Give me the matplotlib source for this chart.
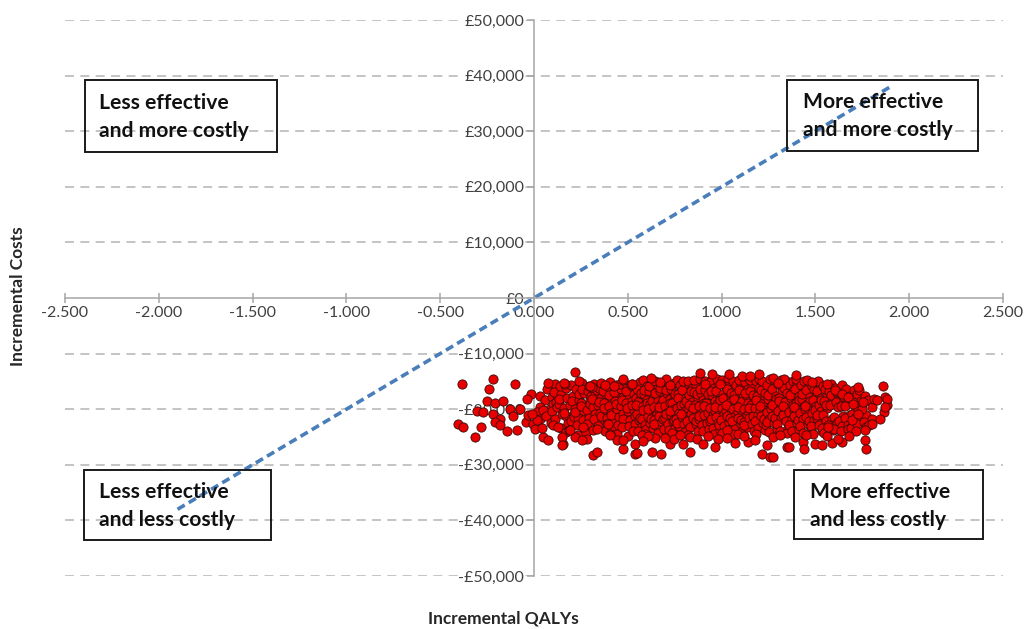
import matplotlib
matplotlib.use("Agg")
import matplotlib.pyplot as plt
from matplotlib.patches import Rectangle
from matplotlib.ticker import FuncFormatter
import numpy as np

plt.rcParams['font.family'] = ['Lato', 'DejaVu Sans']

# ---------------- data ----------------
x_ticks = [-2.5, -2.0, -1.5, -1.0, -0.5, 0.0, 0.5, 1.0, 1.5, 2.0, 2.5]
y_ticks = [-50000, -40000, -30000, -20000, -10000, 0, 10000, 20000, 30000, 40000, 50000]

# willingness-to-pay threshold line (£20,000 per QALY), end points
threshold_qaly = [-1.9, 1.9]
threshold_cost = [-38000, 38000]

quadrant_labels = ["Less effective\nand more costly", "More effective\nand more costly",
                   "Less effective\nand less costly", "More effective\nand less costly"]

# probabilistic sensitivity analysis draws (incremental QALY, incremental cost)
psa_left_tail = [
    (-0.385, -15500), (-0.220, -14500), (-0.238, -16400), (-0.100, -15500), (-0.250, -18500),
    (-0.210, -18800), (-0.167, -18500), (-0.128, -19900), (-0.305, -20300), (-0.270, -20500),
    (-0.217, -20800), (-0.181, -21700), (-0.208, -22300), (-0.181, -22900), (-0.403, -22700),
    (-0.380, -23200), (-0.284, -23200), (-0.146, -23900), (-0.092, -23800), (-0.314, -25000),
    (-0.075, -20000), (-0.110, -21200), (-0.043, -22300), (-0.030, -21100), (-0.018, -17200),
    (-0.036, -18200), (-0.004, -22600), (0.005, -23500), (0.032, -17600), (0.068, -16400),
    (0.059, -18400), (0.094, -17800), (0.085, -19900), (0.032, -19600), (0.014, -20500),
    (0.050, -20200), (0.112, -15400), (0.124, -17500), (0.103, -19000), (0.050, -25000),
    (0.076, -25600), (0.032, -21700), (0.014, -22000), (-0.012, -20800), (0.076, -15200),
    (0.065, -21200), (0.088, -22400), (0.045, -23300),
]

psa_core_low = [
    (0.105, -16900), (0.118, -18700), (0.098, -20400), (0.112, -21800), (0.124, -19600), (0.103, -22900),
    (0.142, -17300), (0.135, -19100), (0.149, -20900), (0.131, -18200), (0.146, -23400), (0.138, -15900),
    (0.168, -16200), (0.177, -18000), (0.162, -19800), (0.173, -21300), (0.181, -22500), (0.159, -20600), (0.171, -24100),
    (0.196, -15600), (0.207, -17700), (0.192, -19300), (0.211, -20800), (0.199, -22100), (0.204, -18600), (0.189, -23700), (0.214, -21400),
    (0.226, -16400), (0.238, -18300), (0.221, -19900), (0.233, -21600), (0.242, -17200), (0.228, -22800), (0.219, -20500), (0.236, -24600),
    (0.257, -15200), (0.264, -17000), (0.252, -18900), (0.269, -20300), (0.261, -21900), (0.249, -19400), (0.266, -23300), (0.255, -16300),
    (0.288, -16700), (0.296, -18400), (0.281, -20100), (0.293, -21500), (0.302, -17600), (0.285, -22700), (0.298, -19000), (0.279, -24200), (0.291, -15900),
    (0.318, -15500), (0.327, -17400), (0.313, -19600), (0.324, -20900), (0.331, -22300), (0.309, -18100), (0.321, -21700), (0.334, -16600), (0.316, -23800),
    (0.346, -16100), (0.357, -17900), (0.343, -19200), (0.352, -20600), (0.361, -22000), (0.348, -18700), (0.355, -21200), (0.341, -23100), (0.359, -15300),
    (0.377, -15800), (0.386, -17300), (0.372, -18800), (0.383, -20200), (0.391, -21600), (0.374, -19700), (0.388, -22600), (0.369, -16800), (0.381, -24000),
    (0.406, -16400), (0.417, -18200), (0.402, -19500), (0.413, -20700), (0.421, -22200), (0.398, -17500), (0.409, -21000), (0.415, -23500), (0.404, -15100),
    (0.437, -15700), (0.446, -17100), (0.432, -18600), (0.443, -20000), (0.451, -21400), (0.435, -19100), (0.448, -22900), (0.429, -16900), (0.441, -24400),
    (0.466, -16300), (0.477, -17800), (0.462, -19400), (0.473, -20800), (0.481, -22400), (0.468, -18300), (0.475, -21700), (0.459, -15400), (0.471, -23200),
    (0.497, -15900), (0.506, -17500), (0.492, -18900), (0.503, -20400), (0.511, -21900), (0.495, -19800), (0.508, -23000), (0.489, -16700), (0.501, -24800),
    (0.526, -16000), (0.535, -17200), (0.521, -18500), (0.532, -20100), (0.541, -21300), (0.524, -19300), (0.538, -22600), (0.519, -15600), (0.529, -23900), (0.544, -17900),
]

psa_core_mid = [
    (0.564, -15100), (0.551, -16400), (0.572, -17600), (0.557, -18700), (0.568, -19800), (0.548, -20900), (0.561, -22000), (0.574, -23100), (0.554, -24000), (0.570, -17000), (0.546, -19300), (0.566, -21500),
    (0.583, -14700), (0.601, -15900), (0.588, -17300), (0.603, -18400), (0.580, -19500), (0.595, -20600), (0.577, -21700), (0.593, -22800), (0.599, -23600), (0.586, -16600), (0.605, -18900), (0.582, -20100), (0.592, -24500),
    (0.624, -15300), (0.611, -16800), (0.632, -17900), (0.617, -19000), (0.628, -20300), (0.608, -21200), (0.621, -22400), (0.634, -23300), (0.614, -15900), (0.630, -18500), (0.606, -19900), (0.626, -21800),
    (0.643, -14900), (0.661, -16100), (0.648, -17400), (0.663, -18600), (0.640, -19600), (0.655, -20800), (0.637, -21900), (0.653, -23000), (0.659, -24200), (0.646, -17000), (0.665, -20200), (0.642, -22600),
    (0.684, -15500), (0.671, -16700), (0.692, -17800), (0.677, -19100), (0.688, -20000), (0.668, -21300), (0.681, -22300), (0.694, -23600), (0.674, -16200), (0.690, -18300), (0.666, -19600), (0.686, -21700),
    (0.703, -14600), (0.721, -15800), (0.708, -17100), (0.723, -18200), (0.700, -19400), (0.715, -20500), (0.697, -21600), (0.713, -22700), (0.719, -23800), (0.706, -16500), (0.725, -18800), (0.702, -20900),
    (0.744, -15200), (0.731, -16300), (0.752, -17600), (0.737, -18900), (0.748, -19900), (0.728, -21100), (0.741, -22200), (0.754, -23400), (0.734, -24300), (0.750, -17300), (0.726, -20400), (0.746, -22000),
    (0.763, -14800), (0.781, -16000), (0.768, -17200), (0.783, -18400), (0.760, -19700), (0.775, -20700), (0.757, -21800), (0.773, -23000), (0.779, -15600), (0.766, -18000), (0.785, -19200), (0.762, -22500),
    (0.804, -15400), (0.791, -16600), (0.812, -17900), (0.797, -19000), (0.808, -20200), (0.788, -21400), (0.801, -22600), (0.814, -23700), (0.794, -14900), (0.810, -18500), (0.786, -20800), (0.806, -24100),
    (0.823, -15000), (0.841, -16200), (0.828, -17500), (0.843, -18700), (0.820, -19800), (0.835, -20900), (0.817, -22100), (0.833, -23200), (0.839, -16800), (0.826, -19300), (0.845, -21600), (0.822, -24600),
    (0.864, -15600), (0.851, -16900), (0.872, -18100), (0.857, -19200), (0.868, -20400), (0.848, -21500), (0.861, -22700), (0.874, -23900), (0.854, -14700), (0.870, -17300), (0.846, -19700), (0.866, -22200),
    (0.883, -14500), (0.901, -15800), (0.888, -17000), (0.903, -18300), (0.880, -19500), (0.895, -20600), (0.877, -21800), (0.893, -22900), (0.899, -24000), (0.886, -16400), (0.905, -18800), (0.882, -21200),
    (0.924, -15300), (0.911, -16500), (0.932, -17700), (0.917, -18900), (0.928, -20000), (0.908, -21100), (0.921, -22400), (0.934, -23500), (0.914, -14900), (0.930, -17200), (0.906, -19400), (0.926, -20700),
    (0.943, -15000), (0.961, -16200), (0.948, -17400), (0.963, -18600), (0.940, -19800), (0.955, -21000), (0.937, -22100), (0.953, -23300), (0.959, -24400), (0.946, -16800), (0.965, -20300), (0.942, -21700),
    (0.984, -15500), (0.971, -16700), (0.992, -17900), (0.977, -19100), (0.988, -20200), (0.968, -21400), (0.981, -22500), (0.994, -23700), (0.974, -14600), (0.990, -18400), (0.966, -19600), (0.986, -22900),
    (1.003, -14800), (1.021, -16000), (1.008, -17300), (1.023, -18500), (1.000, -19700), (1.015, -20800), (0.997, -21900), (1.013, -23100), (1.019, -15600), (1.006, -18000), (1.025, -20400), (1.002, -24200),
    (1.044, -15200), (1.031, -16400), (1.052, -17700), (1.037, -18900), (1.048, -20000), (1.028, -21200), (1.041, -22300), (1.054, -23400), (1.034, -14400), (1.050, -17100), (1.026, -19300), (1.046, -21600),
    (1.063, -14900), (1.081, -16100), (1.068, -17400), (1.083, -18700), (1.060, -19900), (1.075, -21000), (1.057, -22200), (1.073, -23600), (1.079, -15700), (1.066, -18200), (1.085, -20500), (1.062, -24500),
    (1.104, -15400), (1.091, -16600), (1.112, -17800), (1.097, -19000), (1.108, -20300), (1.088, -21500), (1.101, -22600), (1.114, -23800), (1.094, -14700), (1.110, -18500), (1.086, -19600), (1.106, -21900),
    (1.123, -15100), (1.141, -16300), (1.128, -17500), (1.143, -18800), (1.120, -19900), (1.135, -21100), (1.117, -22300), (1.133, -23200), (1.139, -14300), (1.126, -17000), (1.145, -20600), (1.122, -22800),
    (1.164, -15600), (1.151, -16800), (1.172, -18000), (1.157, -19300), (1.168, -20400), (1.148, -21600), (1.161, -22700), (1.174, -24000), (1.154, -14800), (1.170, -17400), (1.146, -19700), (1.166, -21200),
    (1.183, -15000), (1.201, -16200), (1.188, -17600), (1.203, -18700), (1.180, -19800), (1.195, -21000), (1.177, -22100), (1.193, -23300), (1.199, -14500), (1.186, -18300), (1.205, -20200), (1.182, -24400),
    (1.224, -15300), (1.211, -16500), (1.232, -17800), (1.217, -19000), (1.228, -20200), (1.208, -21300), (1.221, -22500), (1.234, -23700), (1.214, -14900), (1.230, -17100), (1.206, -19500), (1.226, -21800),
    (1.243, -15700), (1.261, -16900), (1.248, -18100), (1.263, -19400), (1.240, -20500), (1.255, -21700), (1.237, -22900), (1.253, -24100), (1.259, -14600), (1.246, -17500), (1.265, -20000), (1.242, -22300),
    (1.284, -15100), (1.271, -16400), (1.292, -17600), (1.277, -18800), (1.288, -20000), (1.268, -21200), (1.281, -22400), (1.294, -23500), (1.274, -14400), (1.290, -18200), (1.266, -19300), (1.286, -21600),
]

psa_core_high = [
    (1.303, -15400), (1.321, -16700), (1.308, -17900), (1.323, -19100), (1.300, -20300), (1.315, -21500), (1.297, -22700), (1.313, -23900), (1.319, -14800), (1.306, -18500), (1.325, -20800),
    (1.344, -15000), (1.331, -16200), (1.352, -17500), (1.337, -18700), (1.348, -19900), (1.328, -21100), (1.341, -22200), (1.354, -23400), (1.334, -14500), (1.350, -17100), (1.326, -19400), (1.346, -24300),
    (1.363, -15600), (1.381, -16800), (1.368, -18000), (1.383, -19300), (1.360, -20500), (1.375, -21700), (1.357, -22900), (1.373, -24000), (1.379, -14900), (1.366, -17400), (1.385, -20100),
    (1.404, -15200), (1.391, -16400), (1.412, -17700), (1.397, -18900), (1.408, -20100), (1.388, -21300), (1.401, -22400), (1.414, -23600), (1.394, -14600), (1.410, -18300), (1.386, -19600), (1.406, -21900),
    (1.423, -15700), (1.441, -16900), (1.428, -18200), (1.443, -19400), (1.420, -20600), (1.435, -21800), (1.417, -23000), (1.433, -24200), (1.439, -15000), (1.426, -17300), (1.445, -20000),
    (1.464, -15300), (1.451, -16600), (1.472, -17800), (1.457, -19000), (1.468, -20200), (1.448, -21400), (1.461, -22600), (1.474, -23800), (1.454, -14700), (1.470, -18600), (1.446, -19500), (1.466, -22100),
    (1.483, -15800), (1.501, -17000), (1.488, -18300), (1.503, -19500), (1.480, -20700), (1.495, -21900), (1.477, -23100), (1.493, -16300), (1.499, -20100), (1.486, -24500),
    (1.524, -15400), (1.511, -16700), (1.532, -17900), (1.517, -19200), (1.528, -20400), (1.508, -21600), (1.521, -22800), (1.534, -23900), (1.514, -15000), (1.530, -18400), (1.506, -21100),
    (1.543, -15900), (1.561, -17200), (1.548, -18500), (1.563, -19700), (1.540, -21100), (1.555, -22100), (1.537, -23300), (1.553, -16400), (1.559, -19200), (1.546, -24200),
    (1.584, -15500), (1.571, -16800), (1.592, -18100), (1.577, -19300), (1.588, -21800), (1.568, -22900), (1.581, -17500), (1.594, -23700),
    (1.603, -16100), (1.621, -17400), (1.608, -18700), (1.623, -19600), (1.600, -21400), (1.615, -22400), (1.597, -23500), (1.613, -16900),
    (1.644, -15700), (1.631, -17000), (1.652, -18300), (1.637, -19500), (1.648, -21300), (1.628, -22200), (1.641, -23100), (1.654, -17800), (1.634, -24000),
    (1.663, -16300), (1.681, -17600), (1.668, -18900), (1.683, -21000), (1.660, -21600), (1.675, -22800), (1.657, -19500), (1.673, -23600),
    (1.704, -16600), (1.691, -17900), (1.712, -19400), (1.697, -20900), (1.708, -22000), (1.688, -23400), (1.701, -18500), (1.714, -21400),
    (1.723, -17200), (1.741, -18600), (1.728, -20100), (1.743, -21500), (1.720, -22700), (1.735, -16500), (1.717, -23900),
    (1.764, -17700), (1.751, -19000), (1.772, -21100), (1.757, -22300), (1.768, -23200), (1.748, -20000),
    (1.783, -18400), (1.801, -21700), (1.788, -22900), (1.803, -19600),
]

psa_edges = [
    # upper edge
    (0.219, -13300), (0.241, -14900), (0.165, -15400), (0.307, -16000), (0.378, -15700), (0.473, -14800),
    (0.520, -15400), (0.162, -15200), (0.299, -15800), (0.428, -15800), (0.476, -14500), (0.524, -15400),
    (0.624, -14300), (0.672, -15100), (0.725, -15700), (0.885, -13400), (0.947, -13700), (1.041, -13700),
    (1.107, -14000), (1.151, -14000), (1.201, -13600), (0.912, -15500), (0.991, -15500), (1.302, -15200),
    (1.395, -13900), (1.560, -15500), (1.725, -16000), (1.859, -15800), (1.480, -15100), (1.604, -16600),
    (1.640, -17200),
    # lower edge
    (0.316, -28300), (0.334, -27700), (0.156, -26200), (0.219, -25000), (0.281, -25300), (0.476, -27100),
    (0.538, -28000), (0.405, -24400), (0.441, -25600), (0.130, -23200), (0.192, -23800), (0.263, -23200),
    (0.334, -23500), (0.396, -22600), (0.151, -25000), (0.151, -26500), (0.254, -25600), (0.405, -24700),
    (0.476, -25600), (0.538, -26200), (0.547, -27800), (0.627, -27700), (0.677, -28100), (0.725, -26200),
    (0.645, -25100), (0.574, -24700), (0.746, -25400), (0.796, -26200), (0.832, -27700), (0.982, -25400),
    (0.965, -26800), (1.089, -24400), (1.142, -25900), (1.214, -28000), (1.258, -28600), (1.240, -26500),
    (1.276, -25000), (1.347, -26800), (0.832, -25000), (1.027, -23800), (1.359, -26800), (1.436, -25900),
    (1.498, -26200), (1.534, -26500), (1.587, -26000), (1.640, -25900), (1.764, -25600), (1.768, -27200),
    (1.272, -28600), (0.610, -24800), (0.700, -25200), (0.780, -24700), (0.870, -25300), (0.930, -24900),
    (1.030, -25100), (1.120, -24800), (1.180, -25500), (1.310, -24700), (1.390, -25000), (1.450, -24700),
    (1.560, -24800), (1.680, -24900), (0.580, -25800), (0.900, -26300), (1.070, -26000), (1.440, -27100),
    (1.620, -25400),
    # right edge
    (1.672, -17800), (1.755, -18700), (1.814, -18100), (1.871, -17800), (1.880, -19300), (1.867, -20500),
    (1.844, -21700), (1.800, -22600), (1.764, -23800), (1.569, -23200), (1.693, -22000), (1.729, -20800),
    (1.702, -19000), (1.826, -18400), (1.880, -18100), (1.870, -19600),
]

# ---------------- figure ----------------
W, H = 1024, 629
fig = plt.figure(figsize=(W / 100, H / 100), dpi=100)
ax = fig.add_axes([65 / W, 1 - 576 / H, (1003 - 65) / W, (576 - 20) / H])
ax.set_xlim(-2.5, 2.5)
ax.set_ylim(-50000, 50000)

axis_col = '#a6a6a6'
for s in ['top', 'right']:
    ax.spines[s].set_visible(False)
ax.spines['left'].set_position('zero')
ax.spines['bottom'].set_position('zero')
ax.spines['left'].set_color(axis_col)
ax.spines['bottom'].set_color(axis_col)
ax.spines['left'].set_linewidth(1.1)
ax.spines['bottom'].set_linewidth(1.1)

# dashed horizontal gridlines
for yv in y_ticks:
    if yv != 0:
        ax.axhline(yv, color='#bfbfbf', lw=1.3, dashes=(5, 3.5), zorder=1)

ax.set_xticks(x_ticks)
ax.set_yticks(y_ticks)
ax.xaxis.set_major_formatter(FuncFormatter(lambda v, p: f"{v:.3f}"))


def money(v, p):
    v = int(round(v))
    return f"£{v:,}" if v >= 0 else f"-£{-v:,}"


ax.yaxis.set_major_formatter(FuncFormatter(money))
ax.tick_params(axis='x', direction='inout', length=7, width=1.1, color=axis_col,
               labelsize=11.5, labelcolor='#404040', pad=2)
ax.tick_params(axis='y', direction='out', length=5, width=1.1, color=axis_col,
               labelsize=11.5, labelcolor='#404040', pad=2)
for lab in ax.get_yticklabels():
    lab.set_bbox(dict(facecolor='white', edgecolor='none', pad=0.5))

# threshold line
ax.plot(threshold_qaly, threshold_cost, color='#4a7ebb', lw=2.6, dashes=(2.3, 1.3), zorder=2)

# scatter
all_pts = psa_left_tail + psa_core_low + psa_core_mid + psa_core_high + psa_edges
inc_qaly = np.array([p[0] for p in all_pts])
inc_cost = np.array([p[1] for p in all_pts])
ax.scatter(inc_qaly, inc_cost, s=44, c='#e80000', edgecolors='#3a0a0a', linewidths=0.6, zorder=4,
           clip_on=False)

# axis titles
fig.text(18 / W, 1 - 296 / H, "Incremental Costs", rotation=90, ha='center', va='center',
         fontsize=12.5, fontweight='bold', color='#262626')
fig.text(503 / W, 1 - 618 / H, "Incremental QALYs", ha='center', va='center',
         fontsize=12.5, fontweight='bold', color='#262626')

# quadrant boxes (pixel boxes: x0, y0, x1, y1) and text left positions
boxes = [(85, 80, 277, 152, 99), (787, 80, 978, 151, 803),
         (84, 470, 271, 540, 99), (794, 470, 983, 539, 810)]
for (x0, y0, x1, y1, tx), lab in zip(boxes, quadrant_labels):
    fig.patches.append(Rectangle((x0 / W, 1 - y1 / H), (x1 - x0) / W, (y1 - y0) / H,
                                 transform=fig.transFigure, fill=False, edgecolor='#1a1a1a',
                                 lw=1.4, zorder=5))
    fig.text(tx / W, 1 - ((y0 + y1) / 2 + 1) / H, lab, ha='left', va='center', fontsize=15.2,
             fontweight='bold', color='#111111', linespacing=1.5)

fig.savefig('out.png', dpi=100)
